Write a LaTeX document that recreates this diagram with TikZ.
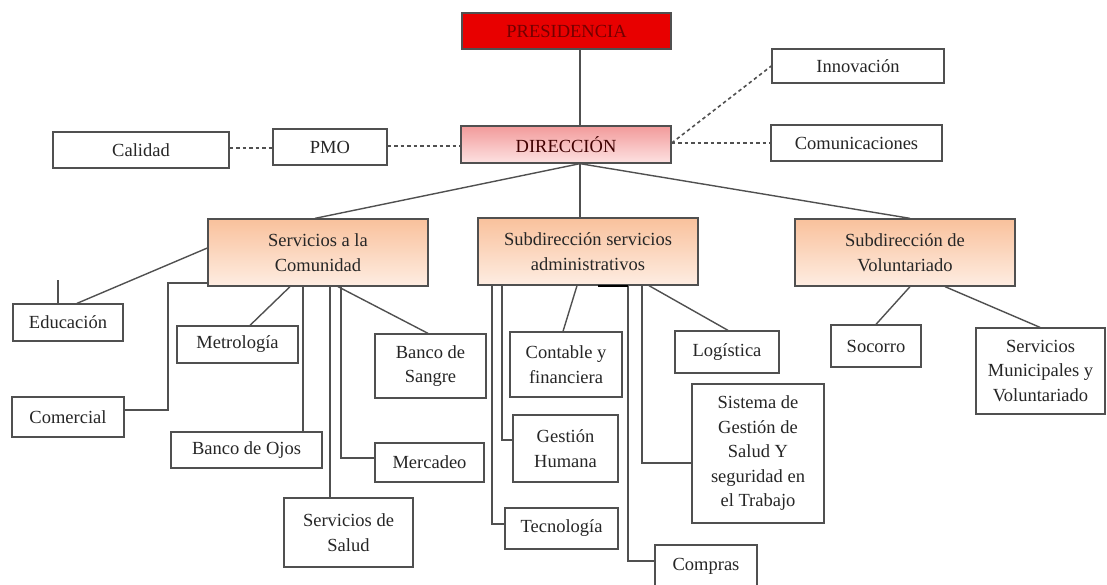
\documentclass[tikz,border=0pt]{standalone}
\usepackage{fontspec}
\setmainfont{Liberation Serif}
\usepackage{xcolor}
\usetikzlibrary{positioning,calc}
\definecolor{presred}{HTML}{E80000}
\definecolor{dirtop}{HTML}{F29A9A}
\definecolor{dirbot}{HTML}{FDE2E2}
\definecolor{subtop}{HTML}{F9C19C}
\definecolor{subbot}{HTML}{FEEDE2}
\definecolor{edgegray}{HTML}{505050}
\tikzstyle{box}=[rectangle, draw=edgegray, line width=1.3pt, fill=white, align=center,
  font=\fontsize{18.5}{24.5}\selectfont, text=black!85, inner sep=2pt]
\tikzstyle{sub}=[box, top color=subtop, bottom color=subbot]
\tikzstyle{link}=[draw=edgegray, line width=1.4pt]
\tikzstyle{dotlink}=[link, line width=1.6pt, dashed, dash pattern=on 3.5pt off 3pt]

\begin{document}
\begin{tikzpicture}[x=1pt, y=-1pt,
  head/.style={box, fill=presred, text=red!45!black},
  dirbox/.style={box, top color=dirtop, bottom color=dirbot, text=red!25!black}]
\useasboundingbox (0,0) rectangle (1107,584);

% top levels
\node[head, minimum width=209pt, minimum height=36pt] (pres) at (566.5,31) {PRESIDENCIA};
\node[dirbox, minimum width=210pt, minimum height=37pt] (dir) at (566,144.5) {DIRECCIÓN};
\node[box, minimum width=176pt, minimum height=36pt] (cal) at (141,150) {Calidad};
\node[box, minimum width=114pt, minimum height=36pt] (pmo) at (330,147) {PMO};
\node[box, minimum width=172pt, minimum height=34pt] (inn) at (858,66) {Innovación};
\node[box, minimum width=171pt, minimum height=36pt] (com) at (856.5,143) {Comunicaciones};

% subdirections
\node[sub, minimum width=220pt, minimum height=67pt] (sc) at (318,252.5) {Servicios a la\\Comunidad};
\node[sub, minimum width=220pt, minimum height=67pt] (sa) at (588,251.5) {Subdirección servicios\\administrativos};
\node[sub, minimum width=220pt, minimum height=67pt] (sv) at (905,252.5) {Subdirección de\\Voluntariado};

% servicios a la comunidad
\node[box, minimum width=110pt, minimum height=37pt] (edu) at (68,322.5) {Educación};
\node[box, minimum width=112pt, minimum height=40pt] (come) at (68,417) {Comercial};
\node[box, minimum width=121pt, minimum height=37pt] (met) at (237.5,344.5) {Metrología};
\node[box, minimum width=151pt, minimum height=36pt] (ojos) at (246.5,450) {Banco de Ojos};
\node[box, minimum width=129pt, minimum height=69pt] (salud) at (348.5,532.5) {Servicios de\\Salud};
\node[box, minimum width=111pt, minimum height=64pt] (sangre) at (430.5,366) {Banco de\\Sangre};
\node[box, minimum width=109pt, minimum height=39pt] (merc) at (429.5,462.5) {Mercadeo};

% servicios administrativos
\node[box, minimum width=112pt, minimum height=65pt] (cont) at (566,364.5) {Contable y\\financiera};
\node[box, minimum width=105pt, minimum height=67pt] (gest) at (565.5,448.5) {Gestión\\Humana};
\node[box, minimum width=113pt, minimum height=41pt] (tec) at (561.5,528.5) {Tecnología};
\node[box, minimum width=102pt, minimum height=47pt, text depth=8pt] (comp) at (706,568.5) {Compras};
\node[box, minimum width=104pt, minimum height=42pt] (log) at (727,352) {Logística};
\node[box, minimum width=132pt, minimum height=139pt] (sist) at (758,453.5)
  {Sistema de\\Gestión de\\Salud Y\\seguridad en\\el Trabajo};

% voluntariado
\node[box, minimum width=90pt, minimum height=42pt] (soc) at (876,346) {Socorro};
\node[box, minimum width=129pt, minimum height=86pt] (mun) at (1040.5,371) {Servicios\\Municipales y\\Voluntariado};

% main lines
\draw[link] (pres.south -| 580,0) -- (dir.north -| 580,0);
\foreach \n/\x in {sc/315, sa/580, sv/910}
  \draw[link] (dir.south -| 580,0) -- (\n.north -| \x,0);

% dashed links
\draw[dotlink] (cal.east |- 0,148) -- (pmo.west |- 0,148);
\draw[dotlink] (pmo.east |- 0,146) -- (dir.west |- 0,146);
\draw[dotlink] (dir.east |- 0,143) -- (inn.west);
\draw[dotlink] (dir.east |- 0,143) -- (com.west);

% links of servicios a la comunidad
\coordinate (edustub) at (58,280);
\draw[link] (edustub) -- (edu.north -| edustub);
\draw[link] (edu.north -| 77,0) -- (sc.west |- 0,248);
\draw[link] (come.east |- 0,410) -| (168,283) -- (sc.west |- 0,283);
\foreach \n/\a/\b in {met/250/290, ojos/303/303, salud/330/330, sangre/428/338}
  \draw[link] (\n.north -| \a,0) -- (sc.south -| \b,0);
\draw[link] (merc.west |- 0,458) -| (sc.south -| 341,0);

% links of servicios administrativos
\draw[link] (cont.north -| 563,0) -- (sa.south -| 577,0);
\draw[link] (log.north -| 728,0) -- (sa.south -| 649,0);
\draw[link] (gest.west |- 0,440) -| (sa.south -| 502,0);
\draw[link] (tec.west |- 0,524) -| (sa.south -| 492,0);
\draw[link] (sist.west |- 0,463) -| (sa.south -| 642,0);
\draw[link] (comp.west |- 0,561) -| (sa.south -| 628,0);
\draw[line width=2pt] (sa.south -| 598,0) -- (sa.south -| 628,0);

% links of voluntariado
\draw[link] (soc.north -| 876,0) -- (sv.south -| 910,0);
\draw[link] (mun.north -| 1040,0) -- (sv.south -| 945,0);
\end{tikzpicture}
\end{document}
